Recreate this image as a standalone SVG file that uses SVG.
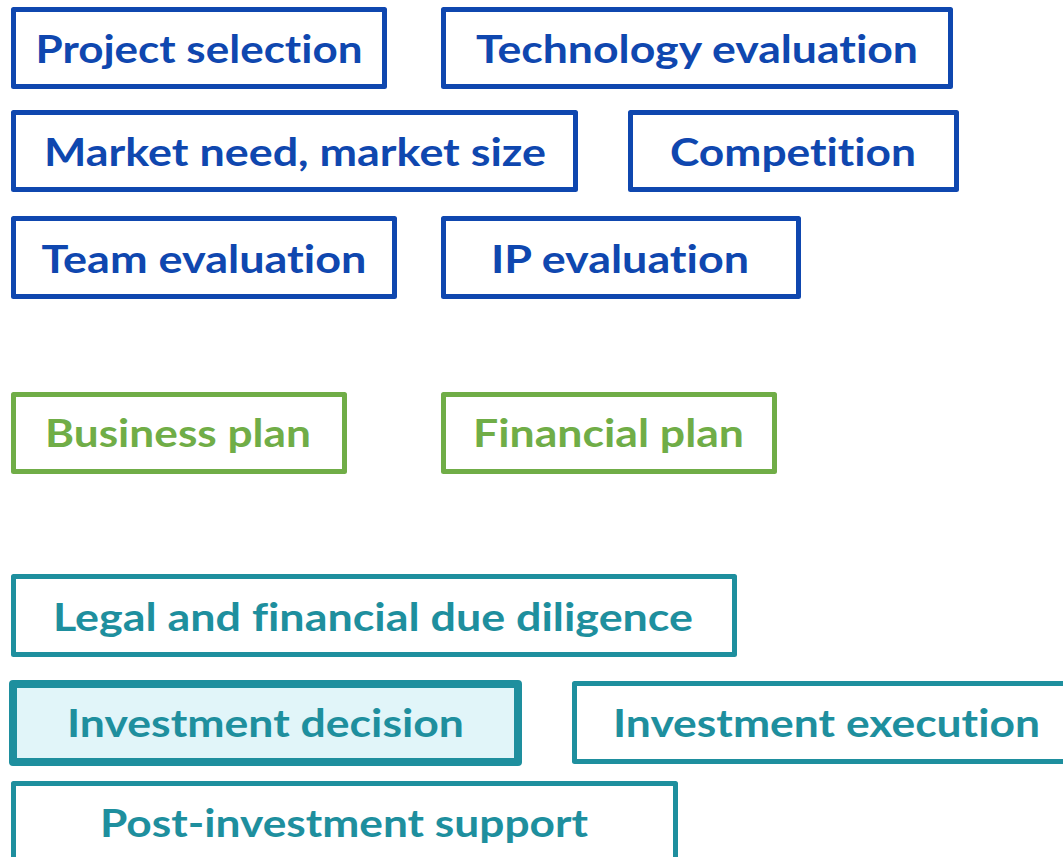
<svg xmlns="http://www.w3.org/2000/svg" width="1063" height="857" viewBox="0 0 1063 857">
  <style>
    .box { fill: #ffffff; stroke-width: 5; stroke-linejoin: round; }
    .lbl { font-family: Lato, "Open Sans", "Liberation Sans", sans-serif; font-weight: bold; font-size: 39px; text-anchor: middle; font-variant-ligatures: none; font-feature-settings: "liga" 0, "clig" 0; }
    .blue rect { stroke: #0F47AF; }
    .blue text { fill: #0F47AF; }
    .green rect { stroke: #70AD47; }
    .green text { fill: #70AD47; }
    .teal rect { stroke: #1E8F9E; }
    .teal text { fill: #1E8F9E; }
  </style>
  <rect width="1063" height="857" fill="#ffffff"/>

  <!-- screening stage -->
  <g id="project-selection" class="blue">
    <rect class="box" x="13.5" y="9.5" width="371" height="77"/>
    <text class="lbl" x="199" y="63" textLength="327" lengthAdjust="spacingAndGlyphs">Project selection</text>
  </g>
  <g id="technology-evaluation" class="blue">
    <rect class="box" x="443.5" y="9.5" width="507" height="77"/>
    <text class="lbl" x="697" y="63" textLength="442" lengthAdjust="spacingAndGlyphs">Technology evaluation</text>
  </g>
  <g id="market-need" class="blue">
    <rect class="box" x="13.5" y="112.5" width="562" height="77"/>
    <text class="lbl" x="295" y="166" textLength="502" lengthAdjust="spacingAndGlyphs">Market need, market size</text>
  </g>
  <g id="competition" class="blue">
    <rect class="box" x="630.5" y="112.5" width="326" height="77"/>
    <text class="lbl" x="793" y="166" textLength="246" lengthAdjust="spacingAndGlyphs">Competition</text>
  </g>
  <g id="team-evaluation" class="blue">
    <rect class="box" x="13.5" y="218.5" width="381" height="78"/>
    <text class="lbl" x="204" y="273" textLength="325" lengthAdjust="spacingAndGlyphs">Team evaluation</text>
  </g>
  <g id="ip-evaluation" class="blue">
    <rect class="box" x="443.5" y="218.5" width="355" height="78"/>
    <text class="lbl" x="620" y="273" textLength="258" lengthAdjust="spacingAndGlyphs">IP evaluation</text>
  </g>

  <!-- planning stage -->
  <g id="business-plan" class="green">
    <rect class="box" x="13.5" y="394.5" width="331" height="77"/>
    <text class="lbl" x="178" y="447" textLength="266" lengthAdjust="spacingAndGlyphs">Business plan</text>
  </g>
  <g id="financial-plan" class="green">
    <rect class="box" x="443.5" y="394.5" width="331" height="77"/>
    <text class="lbl" x="608.5" y="447" textLength="271" lengthAdjust="spacingAndGlyphs">Financial plan</text>
  </g>

  <!-- investment stage -->
  <g id="due-diligence" class="teal">
    <rect class="box" x="13.5" y="576.5" width="721" height="78"/>
    <text class="lbl" x="373" y="631" textLength="640" lengthAdjust="spacingAndGlyphs">Legal and financial due diligence</text>
  </g>
  <g id="investment-decision" class="teal">
    <rect x="13" y="684" width="505" height="78" fill="#E1F5F9" stroke-width="8" stroke-linejoin="round"/>
    <text class="lbl" x="265.5" y="737" textLength="397" lengthAdjust="spacingAndGlyphs">Investment decision</text>
  </g>
  <g id="investment-execution" class="teal">
    <rect class="box" x="574.5" y="683.5" width="500" height="78"/>
    <text class="lbl" x="826.5" y="737" textLength="427" lengthAdjust="spacingAndGlyphs">Investment execution</text>
  </g>
  <g id="post-investment-support" class="teal">
    <rect class="box" x="13.5" y="783.5" width="662" height="100"/>
    <text class="lbl" x="344" y="837" textLength="488" lengthAdjust="spacingAndGlyphs">Post-investment support</text>
  </g>

  <!-- no connectors are drawn between the stages -->
  <g id="connectors"/>
</svg>
